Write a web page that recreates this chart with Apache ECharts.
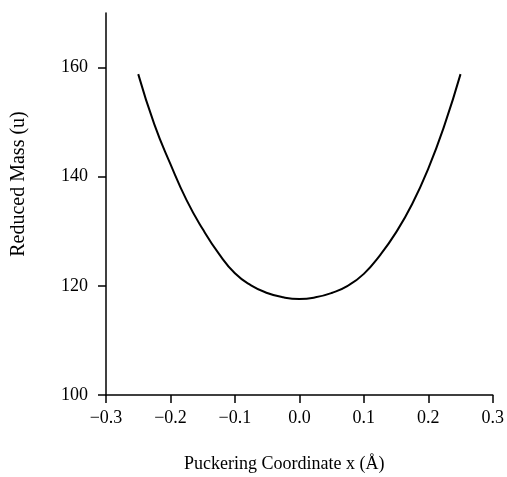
<!DOCTYPE html>
<html>
<head>
<meta charset="UTF-8">
<title>Reduced Mass</title>
<script src="https://cdn.jsdelivr.net/npm/echarts@6/dist/echarts.min.js"></script>
<style>
  body { margin:0; background:#fff; }
  #chart { width:507px; height:477px; }
</style>
</head>
<body>
<div id="chart"></div>
<script>
// puckering coordinate x (Å)
var xValues = [-0.25,-0.225,-0.2,-0.175,-0.15,-0.125,-0.1,-0.075,-0.05,-0.025,0,
               0.025,0.05,0.075,0.1,0.125,0.15,0.175,0.2,0.225,0.25];
// reduced mass (u)
var massValues = [158.8,149.6,142.3,135.7,130.4,125.9,122.3,120.1,118.7,117.9,117.6,
                  117.9,118.7,120.0,122.2,125.6,129.8,135.0,141.5,149.4,158.8];
var xTicks = [-0.3,-0.2,-0.1,0,0.1,0.2,0.3];
var yTicks = [100,120,140,160];

var serif = '"Liberation Serif", "DejaVu Serif", serif';

var data = [];
for (var i = 0; i < xValues.length; i++) data.push([xValues[i], massValues[i]]);

var chart = echarts.init(document.getElementById('chart'));
chart.setOption({
  animation: false,
  grid: { left: 106, right: 14, top: 13, bottom: 82 },
  xAxis: {
    type: 'value', min: -0.3, max: 0.3, interval: 0.1,
    axisLine: { onZero: false, lineStyle: { color: '#000', width: 1.5 } },
    axisTick: { show: true, length: 8, lineStyle: { color: '#000', width: 1.5 }, customValues: xTicks },
    axisLabel: { color: '#000', fontFamily: serif, fontSize: 18, margin: 14, customValues: xTicks,
      formatter: function (v) { return v.toFixed(1).replace('-', '\u2212'); } },
    splitLine: { show: false }
  },
  yAxis: {
    type: 'value', min: 100, max: 170, interval: 20,
    axisLine: { show: true, onZero: false, lineStyle: { color: '#000', width: 1.5 } },
    axisTick: { show: true, length: 8, lineStyle: { color: '#000', width: 1.5 }, customValues: yTicks },
    axisLabel: { color: '#000', fontFamily: serif, fontSize: 18, margin: 18, customValues: yTicks },
    splitLine: { show: false }
  },
  graphic: [
    { type: 'text', left: 184, top: 455,
      style: { text: 'Puckering Coordinate x (Å)', fill: '#000', font: '18px ' + serif } },
    { type: 'text', x: 19, y: 184, rotation: Math.PI / 2,
      style: { text: 'Reduced Mass (u)', fill: '#000', font: '20px ' + serif,
        align: 'center', verticalAlign: 'middle' } }
  ],
  series: [{
    type: 'line', data: data, smooth: true, showSymbol: false,
    lineStyle: { color: '#000', width: 2 }
  }]
});
</script>
</body>
</html>
